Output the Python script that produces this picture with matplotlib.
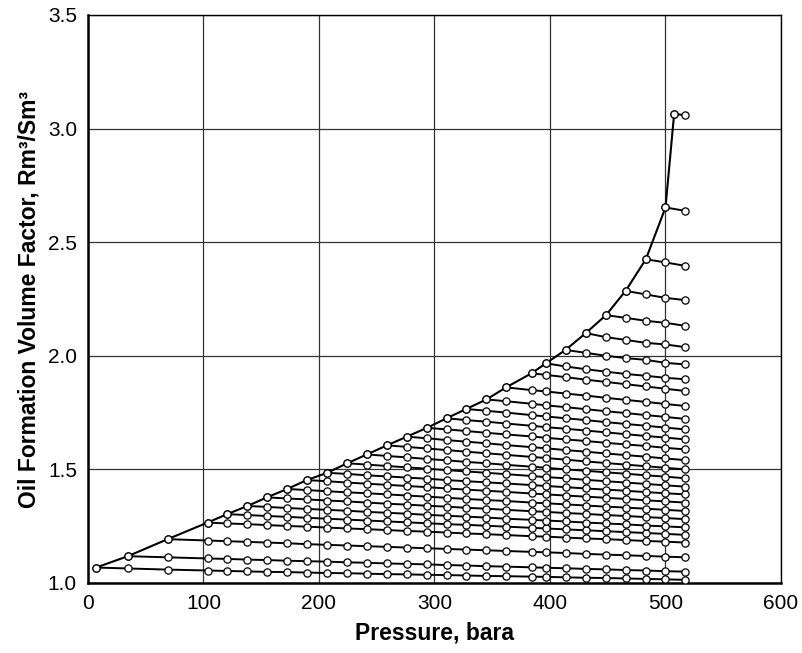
import matplotlib
matplotlib.use("Agg")
import matplotlib.pyplot as plt

plt.rcParams["font.family"] = ["Liberation Sans", "DejaVu Sans"]

# pressure steps (bara) shared by all undersaturated lines
pressure_grid = [7, 34.5, 69, 103.5, 120.5, 138, 155, 172.5, 189.5, 207,
                 224.5, 241.5, 259, 276, 293.5, 310.5, 327.5, 345, 362, 384,
                 396.5, 413.5, 431, 448.5, 465.5, 483, 500, 517]

# Bo (Rm3/Sm3) for each line, starting at its bubble point (column k of pressure_grid)
bo_lines = [
    [1.068, 1.064, 1.059, 1.055, 1.053, 1.051, 1.049, 1.048, 1.046, 1.044, 1.043, 1.041, 1.039, 1.038,
     1.036, 1.035, 1.033, 1.031, 1.030, 1.028, 1.027, 1.025, 1.023, 1.022, 1.020, 1.018, 1.016, 1.014],
    [1.118, 1.113, 1.108, 1.106, 1.103, 1.101, 1.098, 1.096, 1.094, 1.091, 1.089, 1.086, 1.084, 1.082,
     1.079, 1.077, 1.074, 1.072, 1.069, 1.067, 1.065, 1.062, 1.060, 1.057, 1.055, 1.052, 1.050],
    [1.193, 1.187, 1.184, 1.181, 1.178, 1.175, 1.171, 1.168, 1.165, 1.162, 1.159, 1.156, 1.153, 1.150,
     1.147, 1.144, 1.141, 1.137, 1.135, 1.132, 1.128, 1.125, 1.122, 1.119, 1.116, 1.113],
    [1.266, 1.262, 1.259, 1.255, 1.251, 1.248, 1.244, 1.240, 1.237, 1.233, 1.229, 1.226, 1.222, 1.218,
     1.215, 1.211, 1.206, 1.204, 1.200, 1.196, 1.193, 1.189, 1.185, 1.182, 1.178],
    [1.303, 1.299, 1.295, 1.291, 1.287, 1.283, 1.279, 1.275, 1.271, 1.267, 1.263, 1.259, 1.256, 1.252,
     1.248, 1.243, 1.240, 1.236, 1.232, 1.228, 1.224, 1.220, 1.216, 1.212],
    [1.339, 1.335, 1.330, 1.326, 1.322, 1.318, 1.313, 1.309, 1.305, 1.300, 1.296, 1.292, 1.288, 1.283,
     1.278, 1.275, 1.271, 1.266, 1.262, 1.258, 1.253, 1.249, 1.245],
    [1.377, 1.372, 1.368, 1.363, 1.359, 1.354, 1.349, 1.345, 1.340, 1.336, 1.331, 1.327, 1.322, 1.316,
     1.313, 1.308, 1.304, 1.299, 1.295, 1.290, 1.286, 1.281],
    [1.414, 1.409, 1.404, 1.399, 1.395, 1.390, 1.385, 1.380, 1.375, 1.370, 1.365, 1.361, 1.354, 1.351,
     1.346, 1.341, 1.336, 1.332, 1.327, 1.322, 1.317],
    [1.453, 1.448, 1.442, 1.437, 1.432, 1.427, 1.422, 1.416, 1.411, 1.406, 1.401, 1.394, 1.390, 1.385,
     1.380, 1.375, 1.370, 1.364, 1.359, 1.354],
    [1.485, 1.480, 1.474, 1.469, 1.464, 1.459, 1.453, 1.448, 1.443, 1.438, 1.431, 1.427, 1.422, 1.416,
     1.411, 1.406, 1.400, 1.395, 1.390],
    [1.527, 1.521, 1.515, 1.509, 1.503, 1.497, 1.491, 1.485, 1.479, 1.471, 1.466, 1.461, 1.454, 1.448,
     1.442, 1.436, 1.430, 1.424],
    [1.566, 1.559, 1.553, 1.546, 1.540, 1.533, 1.527, 1.520, 1.512, 1.507, 1.500, 1.494, 1.487, 1.481,
     1.474, 1.468, 1.461],
    [1.606, 1.599, 1.592, 1.585, 1.578, 1.571, 1.564, 1.555, 1.550, 1.543, 1.535, 1.528, 1.521, 1.514,
     1.507, 1.500],
    [1.644, 1.637, 1.629, 1.622, 1.615, 1.607, 1.598, 1.593, 1.585, 1.578, 1.570, 1.563, 1.556, 1.548,
     1.541],
    [1.683, 1.676, 1.669, 1.661, 1.654, 1.645, 1.639, 1.632, 1.625, 1.617, 1.610, 1.603, 1.595, 1.588],
    [1.725, 1.717, 1.710, 1.702, 1.692, 1.686, 1.679, 1.671, 1.663, 1.655, 1.647, 1.640, 1.632],
    [1.766, 1.758, 1.750, 1.739, 1.733, 1.725, 1.717, 1.708, 1.700, 1.692, 1.684, 1.676],
    [1.808, 1.800, 1.789, 1.782, 1.774, 1.765, 1.756, 1.748, 1.739, 1.731, 1.722],
    [1.861, 1.849, 1.843, 1.834, 1.825, 1.815, 1.806, 1.797, 1.788, 1.779],
    [1.923, 1.916, 1.906, 1.895, 1.885, 1.875, 1.865, 1.855, 1.845],
    [1.967, 1.953, 1.941, 1.930, 1.920, 1.912, 1.903, 1.897],
    [2.026, 2.013, 2.000, 1.990, 1.982, 1.969, 1.962],
    [2.100, 2.082, 2.070, 2.057, 2.050, 2.038],
    [2.179, 2.167, 2.154, 2.145, 2.132],
    [2.286, 2.270, 2.255, 2.245],
    [2.425, 2.411, 2.396],
    [2.653, 2.638],
]

# highest bubble point sits off the pressure grid
top_pressure = [507.5, 517]
top_bo = [3.066, 3.058]

x_ticks = [0, 100, 200, 300, 400, 500, 600]
y_ticks = [1.0, 1.5, 2.0, 2.5, 3.0, 3.5]

fig = plt.figure(figsize=(8.03, 6.53), dpi=100)
ax = fig.add_axes([88 / 803, 1 - 583 / 653, (781 - 88) / 803, (583 - 15) / 653])

marker_style = dict(marker="o", markersize=5.2, markerfacecolor="white",
                    markeredgecolor="black", markeredgewidth=0.9)

# undersaturated lines
for k, vals in enumerate(bo_lines):
    ax.plot(pressure_grid[k:k + len(vals)], vals, color="black", lw=1.4, zorder=3, **marker_style)
ax.plot(top_pressure, top_bo, color="black", lw=1.4, zorder=3, **marker_style)

# bubble point curve
bub_p = [pressure_grid[k] for k in range(len(bo_lines))] + [top_pressure[0]]
bub_bo = [vals[0] for vals in bo_lines] + [top_bo[0]]
ax.plot(bub_p, bub_bo, color="black", lw=1.5, zorder=4, **marker_style)

ax.set_xlim(0, 600)
ax.set_ylim(1.0, 3.5)
ax.set_xticks(x_ticks)
ax.set_yticks(y_ticks)
ax.set_xticklabels([str(v) for v in x_ticks])
ax.set_yticklabels([f"{v:.1f}" for v in y_ticks])
ax.tick_params(length=0, labelsize=15)
ax.tick_params(axis="x", pad=8)
ax.tick_params(axis="y", pad=8)
ax.grid(True, color="#333333", lw=0.9, zorder=0)
ax.set_axisbelow(True)

for side in ["left", "bottom"]:
    ax.spines[side].set_linewidth(1.8)
for side in ["top", "right"]:
    ax.spines[side].set_linewidth(1.0)

ax.set_xlabel("Pressure, bara", fontsize=16.5, fontweight="bold", labelpad=6)
ax.set_ylabel("Oil Formation Volume Factor, Rm³/Sm³", fontsize=16.5, fontweight="bold", labelpad=5)

fig.savefig("out.png", dpi=100)
